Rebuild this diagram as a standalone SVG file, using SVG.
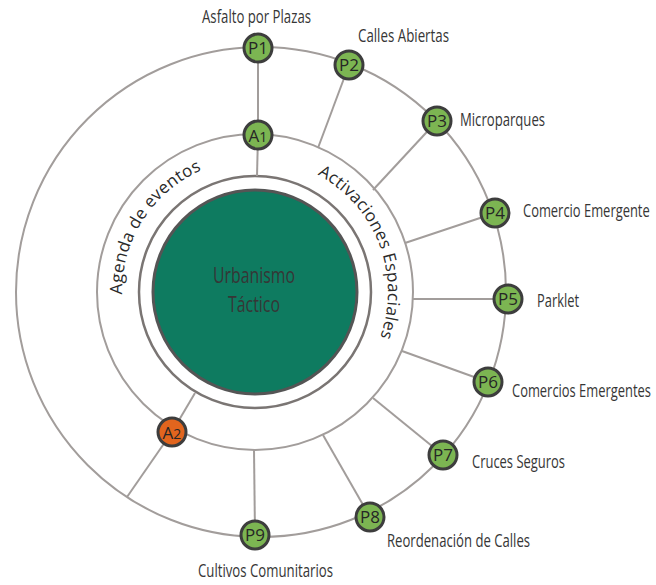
<svg xmlns="http://www.w3.org/2000/svg" width="656" height="585" viewBox="0 0 656 585">
<style>
.ring{fill:none;stroke:#a29d9b;stroke-width:2}
#connectors line{stroke:#a29d9b;stroke-width:2}
.node{fill:#7cb552;stroke:#3d3d3d;stroke-width:3}
.orange{fill:#e2651e}
.nt{font-family:"Open Sans","Noto Sans",sans-serif;font-size:17px;fill:#262626;text-anchor:middle}
.lbl{font-family:"Open Sans","Noto Sans",sans-serif;font-size:18px;fill:#363636}
.arc{font-family:"Open Sans","Noto Sans",sans-serif;font-size:17px;fill:#2a2a2a}
.ctr{font-family:"Open Sans","Noto Sans",sans-serif;font-size:21px;fill:#363636;text-anchor:middle}
</style>
<defs>
<path id="arcAgenda" d="M 122 294.3 A 133 133 0 0 1 209.5 167"/>
<path id="arcActiv" d="M 317.4 174.6 A 133 133 0 0 1 370.2 358.5"/>
</defs>
<rect width="656" height="585" fill="#ffffff"/>
<g id="rings">
<circle class="ring" cx="261" cy="292" r="245"/>
<circle class="ring" cx="255" cy="292" r="158"/>
<circle cx="255" cy="292" r="116" fill="#ffffff" stroke="#7a7573" stroke-width="2.5"/>
</g>
<g id="connectors">
<line x1="258" y1="48" x2="258" y2="135"/>
<line x1="258" y1="135" x2="257" y2="176"/>
<line x1="318" y1="148" x2="349" y2="65"/>
<line x1="373" y1="190" x2="437" y2="121"/>
<line x1="405" y1="243" x2="495" y2="213"/>
<line x1="412" y1="299" x2="508" y2="299"/>
<line x1="402" y1="351" x2="488" y2="382"/>
<line x1="373" y1="398" x2="443" y2="455"/>
<line x1="323" y1="435" x2="370" y2="517"/>
<line x1="254" y1="450" x2="255" y2="535"/>
<line x1="172" y1="432" x2="195" y2="393"/>
<line x1="172" y1="432" x2="127" y2="497"/>
</g>
<g id="center">
<circle cx="255" cy="292" r="102" fill="#0e7b60" stroke="#555555" stroke-width="3"/>
<text class="ctr" x="254" y="283" textLength="82" lengthAdjust="spacingAndGlyphs">Urbanismo</text>
<text class="ctr" x="254" y="312" textLength="52" lengthAdjust="spacingAndGlyphs">Táctico</text>
</g>
<g id="arc-labels">
<text class="arc"><textPath href="#arcAgenda" textLength="156" lengthAdjust="spacing">Agenda de eventos</textPath></text>
<text class="arc"><textPath href="#arcActiv" textLength="190" lengthAdjust="spacing">Activaciones Espaciales</textPath></text>
</g>
<g id="A1"><circle class="node" cx="258" cy="135" r="14"/><text class="nt" x="258" y="142" font-size="20">A<tspan font-size="14">1</tspan></text></g>
<g id="A2"><circle class="node orange" cx="172" cy="432" r="14"/><text class="nt" x="172" y="439" font-size="20">A<tspan font-size="14">2</tspan></text></g>
<g id="P1"><circle class="node" cx="258" cy="48" r="14"/><text class="nt" x="258" y="54">P1</text><text class="lbl" x="202" y="23" textLength="109" lengthAdjust="spacingAndGlyphs">Asfalto por Plazas</text></g>
<g id="P2"><circle class="node" cx="349" cy="65" r="14"/><text class="nt" x="349" y="71">P2</text><text class="lbl" x="358" y="42" textLength="91" lengthAdjust="spacingAndGlyphs">Calles Abiertas</text></g>
<g id="P3"><circle class="node" cx="437" cy="121" r="14"/><text class="nt" x="437" y="127">P3</text><text class="lbl" x="460" y="126" textLength="85" lengthAdjust="spacingAndGlyphs">Microparques</text></g>
<g id="P4"><circle class="node" cx="495" cy="213" r="14"/><text class="nt" x="495" y="219">P4</text><text class="lbl" transform="translate(523 217) scale(0.72 1)" x="0" y="0" textLength="176" lengthAdjust="spacingAndGlyphs">Comercio Emergente</text></g>
<g id="P5"><circle class="node" cx="508" cy="299" r="14"/><text class="nt" x="508" y="305">P5</text><text class="lbl" x="537" y="307" textLength="42" lengthAdjust="spacingAndGlyphs">Parklet</text></g>
<g id="P6"><circle class="node" cx="488" cy="382" r="14"/><text class="nt" x="488" y="388">P6</text><text class="lbl" transform="translate(512 397) scale(0.72 1)" x="0" y="0" textLength="193" lengthAdjust="spacingAndGlyphs">Comercios Emergentes</text></g>
<g id="P7"><circle class="node" cx="443" cy="455" r="14"/><text class="nt" x="443" y="461">P7</text><text class="lbl" x="472" y="468" textLength="93" lengthAdjust="spacingAndGlyphs">Cruces Seguros</text></g>
<g id="P8"><circle class="node" cx="370" cy="517" r="14"/><text class="nt" x="370" y="523">P8</text><text class="lbl" x="387" y="547" textLength="143" lengthAdjust="spacingAndGlyphs">Reordenación de Calles</text></g>
<g id="P9"><circle class="node" cx="255" cy="535" r="14"/><text class="nt" x="255" y="541">P9</text><text class="lbl" x="198" y="577" textLength="135" lengthAdjust="spacingAndGlyphs">Cultivos Comunitarios</text></g>
</svg>
